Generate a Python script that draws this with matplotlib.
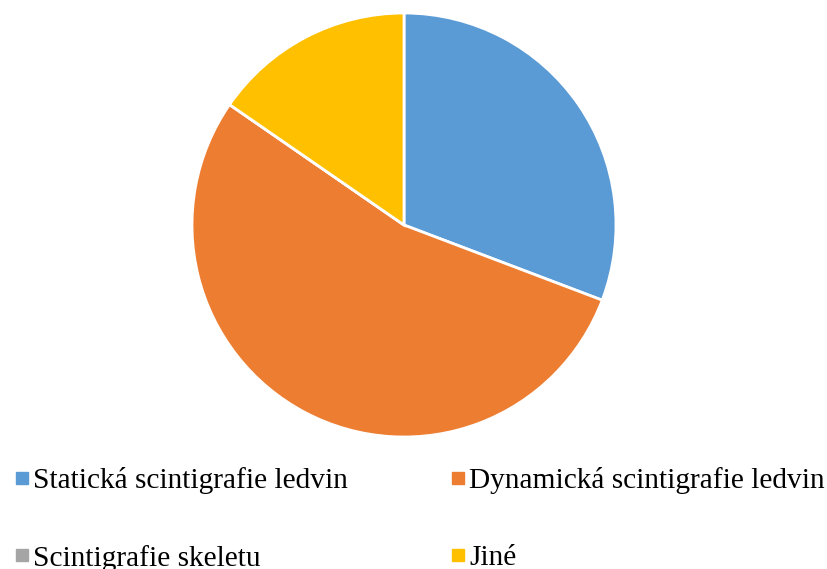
import matplotlib
matplotlib.use('Agg')
import matplotlib.pyplot as plt
from matplotlib.lines import Line2D

labels = ['Statická scintigrafie ledvin', 'Dynamická scintigrafie ledvin',
          'Scintigrafie skeletu', 'Jiné']
values = [20, 35, 0, 10]
colors = ['#5B9BD5', '#ED7D31', '#A5A5A5', '#FFC000']

plt.rcParams['font.family'] = ['Liberation Serif', 'DejaVu Serif']

fig = plt.figure(figsize=(8.27, 5.69), dpi=100)
ax = fig.add_axes([192 / 827, (569 - 437) / 569, 424 / 827, 424 / 569])
ax.pie(values, colors=colors, startangle=90, counterclock=False,
       wedgeprops=dict(edgecolor='white', linewidth=2))
ax.set_xlim(-1, 1)
ax.set_ylim(-1, 1)
ax.set_aspect('equal')
ax.axis('off')

handles = [Line2D([], [], marker='s', linestyle='none', markersize=8.5,
                  markerfacecolor=c, markeredgecolor=c) for c in colors]
# legend fills column by column, so reorder to read row by row
order = [0, 2, 1, 3]
fig.legend([handles[i] for i in order], [labels[i] for i in order],
           ncol=2, loc='upper left',
           bbox_to_anchor=(9 / 827, 1 - 461 / 569), frameon=False,
           fontsize=21.2, handlelength=0.45, handletextpad=0.17,
           columnspacing=3.5, labelspacing=1.72, borderaxespad=0, borderpad=0.2)

fig.savefig('out.png', dpi=100)
